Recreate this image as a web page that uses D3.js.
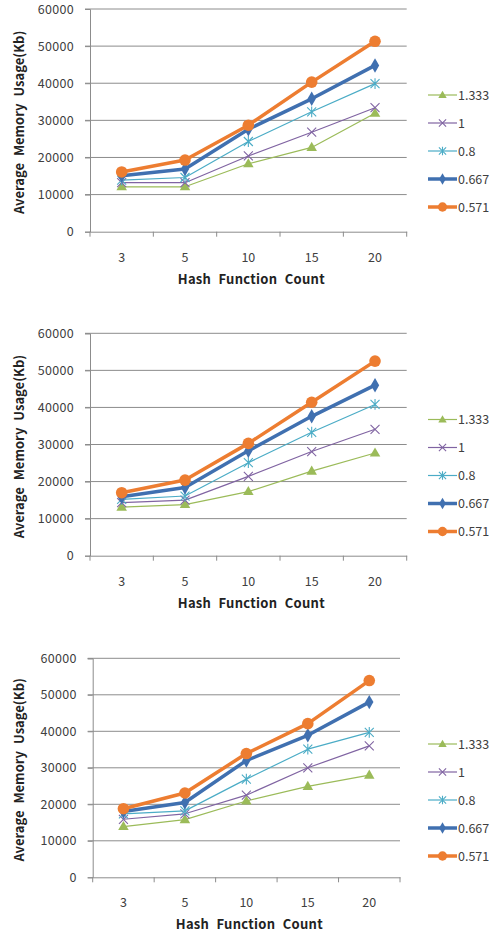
<!DOCTYPE html>
<html>
<head>
<meta charset="utf-8">
<script src="https://cdn.jsdelivr.net/npm/d3@7"></script>
<style>
  html, body { margin: 0; padding: 0; background: #fff; }
  svg { display: block; }
  text { font-family: "Noto Sans CJK KR", "Open Sans", sans-serif; }
</style>
</head>
<body>
<svg id="chart" width="502" height="939"></svg>
<script>
// Hash function counts along the x axis
const categories = ["3", "5", "10", "15", "20"];
// Series (load factor) names, in legend order
const seriesNames = ["1.333", "1", "0.8", "0.667", "0.571"];
// y axis ticks
const yTicks = [0, 10000, 20000, 30000, 40000, 50000, 60000];

// Panel 1 values (Kb), one array per series
const panel1_1333 = [12100, 12100, 18300, 22700, 31900];
const panel1_1    = [13200, 13200, 20400, 26800, 33400];
const panel1_08   = [13900, 14600, 24300, 32300, 39900];
const panel1_0667 = [15100, 16900, 27600, 35800, 44800];
const panel1_0571 = [16100, 19300, 28700, 40300, 51300];

// Panel 2 values (Kb)
const panel2_1333 = [13100, 13800, 17300, 22800, 27700];
const panel2_1    = [14300, 15000, 21400, 28100, 34100];
const panel2_08   = [15200, 16100, 25100, 33300, 40800];
const panel2_0667 = [15900, 18400, 28300, 37600, 46000];
const panel2_0571 = [17000, 20400, 30300, 41400, 52500];

// Panel 3 values (Kb)
const panel3_1333 = [13900, 15800, 20900, 24900, 28000];
const panel3_1    = [15900, 17400, 22500, 30000, 36000];
const panel3_08   = [17400, 18200, 26900, 35100, 39700];
const panel3_0667 = [18000, 20500, 32000, 38900, 48000];
const panel3_0571 = [18800, 23100, 33900, 42100, 53900];

const panels = [
  [panel1_1333, panel1_1, panel1_08, panel1_0667, panel1_0571],
  [panel2_1333, panel2_1, panel2_08, panel2_0667, panel2_0571],
  [panel3_1333, panel3_1, panel3_08, panel3_0667, panel3_0571]
];

// Drawing styles per series
const styles = [
  { color: "#9BBB59", width: 1.2, marker: "triangle" },
  { color: "#8064A2", width: 1.2, marker: "x" },
  { color: "#4BACC6", width: 1.2, marker: "star" },
  { color: "#4070B0", width: 3.5, marker: "diamond" },
  { color: "#ED7D31", width: 3.5, marker: "circle" }
];

// Plot boxes of the three panels
const layouts = [
  { left: 90,   right: 406.7, top: 9,     bottom: 231.7, legendTop: 95 },
  { left: 90,   right: 406.7, top: 333.3, bottom: 555.7, legendTop: 419.5 },
  { left: 92.7, right: 400,   top: 658.3, bottom: 877.3, legendTop: 744 }
];

const svg = d3.select("#chart");

function drawMarker(g, type, color, x, y, scale) {
  const s = scale;
  if (type === "triangle") {
    g.append("path")
      .attr("d", d3.symbol(d3.symbolTriangle, 48 * s * s)())
      .attr("transform", `translate(${x},${y + 0.5})`)
      .attr("fill", color);
  } else if (type === "diamond") {
    g.append("path")
      .attr("d", d3.symbol(d3.symbolDiamond, 60 * s * s)())
      .attr("transform", `translate(${x},${y})`)
      .attr("fill", color);
  } else if (type === "circle") {
    g.append("circle")
      .attr("cx", x).attr("cy", y).attr("r", 5.8 * s)
      .attr("fill", color);
  } else {
    const r = 4.5 * s;
    const p = d3.path();
    p.moveTo(x - r, y - r); p.lineTo(x + r, y + r);
    p.moveTo(x - r, y + r); p.lineTo(x + r, y - r);
    if (type === "star") { p.moveTo(x, y - r * 1.2); p.lineTo(x, y + r * 1.2); }
    g.append("path").attr("d", p.toString())
      .attr("stroke", color).attr("stroke-width", 1.1).attr("fill", "none");
  }
}

panels.forEach((series, pi) => {
  const L = layouts[pi];
  const g = svg.append("g");

  const x = d3.scaleBand().domain(categories).range([L.left, L.right]);
  const y = d3.scaleLinear().domain([0, 60000]).range([L.bottom, L.top]);

  // horizontal gridlines
  g.append("g").selectAll("line").data(yTicks.filter(d => d > 0)).join("line")
    .attr("x1", L.left - 5).attr("x2", L.right)
    .attr("y1", d => y(d)).attr("y2", d => y(d))
    .attr("stroke", "#8c8c8c").attr("stroke-width", 1);

  // y axis
  const yAxis = g.append("g").attr("transform", `translate(${L.left},0)`)
    .call(d3.axisLeft(y).tickValues(yTicks).tickSize(5).tickPadding(11).tickFormat(d3.format("d")));
  yAxis.select(".domain").attr("stroke", "#8c8c8c");
  yAxis.selectAll(".tick line").attr("stroke", "#8c8c8c");
  yAxis.selectAll("text").attr("font-size", 12.5).attr("fill", "#404040")
    .attr("letter-spacing", 0.3);

  // x axis, ticks on category boundaries
  const xAxis = g.append("g").attr("transform", `translate(0,${L.bottom})`)
    .call(d3.axisBottom(x).tickSize(0).tickPadding(21));
  xAxis.select(".domain").attr("stroke", "#8c8c8c");
  xAxis.selectAll("text").attr("font-size", 12.5).attr("fill", "#404040");
  const bounds = categories.map(c => x(c)).concat([L.right]);
  g.append("g").selectAll("line").data(bounds).join("line")
    .attr("x1", d => d).attr("x2", d => d)
    .attr("y1", L.bottom).attr("y2", L.bottom + 5)
    .attr("stroke", "#8c8c8c");

  // axis titles
  g.append("text")
    .attr("x", (L.left + L.right) / 2 + 3).attr("y", L.bottom + 52)
    .attr("text-anchor", "middle").attr("font-size", 13).attr("font-weight", "bold")
    .attr("word-spacing", 4).attr("letter-spacing", 0.3)
    .attr("fill", "#222").text("Hash Function Count");
  g.append("text")
    .attr("transform", `translate(24,${(L.top + L.bottom) / 2 + 2}) rotate(-90)`)
    .attr("text-anchor", "middle").attr("font-size", 13).attr("font-weight", "bold")
    .attr("word-spacing", 4)
    .attr("fill", "#222").text("Average Memory Usage(Kb)");

  // series lines and markers
  const line = d3.line().x((d, i) => x(categories[i]) + x.bandwidth() / 2).y(d => y(d));
  series.forEach((vals, si) => {
    const st = styles[si];
    g.append("path").attr("d", line(vals))
      .attr("fill", "none").attr("stroke", st.color)
      .attr("stroke-width", st.width).attr("stroke-linejoin", "round");
    vals.forEach((v, i) => {
      drawMarker(g, st.marker, st.color, x(categories[i]) + x.bandwidth() / 2, y(v), 1);
    });
  });

  // legend
  seriesNames.forEach((name, si) => {
    const st = styles[si];
    const ly = L.legendTop + si * 28;
    g.append("line").attr("x1", 428).attr("x2", 457).attr("y1", ly).attr("y2", ly)
      .attr("stroke", st.color).attr("stroke-width", st.width);
    drawMarker(g, st.marker, st.color, 442.5, ly, 0.8);
    g.append("text").attr("x", 458).attr("y", ly + 4.5)
      .attr("font-size", 12.5).attr("fill", "#404040").text(name);
  });
});
</script>
</body>
</html>
